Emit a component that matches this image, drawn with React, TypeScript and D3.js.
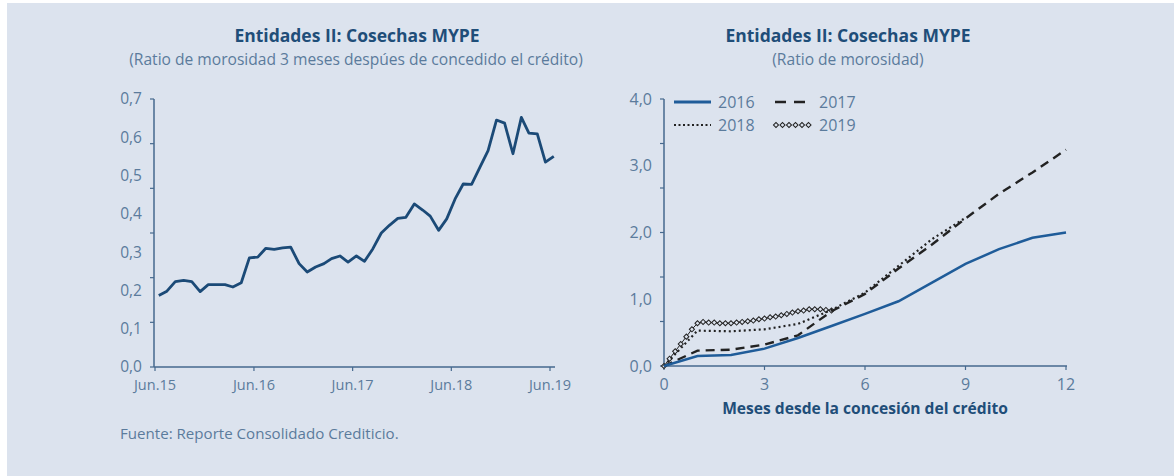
import React from "react";
import * as d3 from "d3";

// Panel izquierdo: ratio de morosidad 3 meses después (jun.15 - jun.19, mensual)
const leftValues = [
  0.187, 0.198, 0.223, 0.226, 0.223, 0.197, 0.215, 0.215, 0.215, 0.209, 0.22, 0.285,
  0.287, 0.31, 0.307, 0.311, 0.313, 0.27, 0.248, 0.261, 0.27, 0.283, 0.29, 0.274,
  0.29, 0.276, 0.309, 0.35, 0.37, 0.388, 0.391, 0.426, 0.41, 0.394, 0.357, 0.387,
  0.439, 0.478, 0.477, 0.522, 0.565, 0.645, 0.637, 0.557, 0.652, 0.611, 0.609, 0.535,
  0.55,
];
const leftTickLabels = ["Jun.15", "Jun.16", "Jun.17", "Jun.18", "Jun.19"];
const leftYLabels = [0, 0.1, 0.2, 0.3, 0.4, 0.5, 0.6, 0.7];

// Panel derecho: cosechas por meses desde la concesión
const months = [0, 1, 2, 3, 4, 5, 6, 7, 8, 9, 10, 11, 12];
const s2016 = [0, 0.15, 0.165, 0.26, 0.42, 0.6, 0.78, 0.97, 1.25, 1.53, 1.75, 1.92, 2.0];
const s2017 = [0, 0.23, 0.245, 0.32, 0.46, 0.82, 1.08, 1.46, 1.82, 2.21, 2.58, 2.9, 3.24];
const s2018 = [0, 0.53, 0.52, 0.55, 0.63, 0.84, 1.1, 1.5, 1.9, 2.22];
const s2019 = [
  0, 0.11, 0.22, 0.33, 0.44, 0.55, 0.64, 0.66, 0.65, 0.65, 0.64, 0.64, 0.64, 0.65, 0.66,
  0.67, 0.68, 0.7, 0.71, 0.73, 0.74, 0.76, 0.78, 0.8, 0.82, 0.83, 0.85, 0.85, 0.85, 0.84,
  0.83,
];
const rightXTicks = [0, 3, 6, 9, 12];
const rightYLabels = [0, 1, 2, 3, 4];

const W = 1175;
const H = 476;
const BG = "#dce3ee";
const TITLE = "#1f4e79";
const LABEL = "#5b7b9c";
const AXIS = "#46698e";
const FONT = "'Open Sans', 'Noto Sans', sans-serif";

const fmt = (v: number) => v.toFixed(1).replace(".", ",");

export default function App() {
  // ---- izquierdo
  const start = new Date(2015, 5, 1);
  const end = new Date(2019, 5, 1);
  const xL = d3.scaleTime().domain([start, end]).range([155, 550]);
  const yL = d3.scaleLinear().domain([0, 0.7]).range([367, 99]);
  const leftDates = leftValues.map((_, i) => new Date(2015, 5 + i, 15));
  const leftTicks = leftTickLabels.map((_, i) => new Date(2015 + i, 5, 1));
  const lineL = d3
    .line<number>()
    .x((_, i) => xL(leftDates[i]))
    .y((d) => yL(d));
  // las marcas del eje no coinciden con las etiquetas (6 divisiones)
  const leftYTicks = d3.range(7).map((i) => (0.7 * i) / 6);

  // ---- derecho
  const xR = d3.scaleLinear().domain([0, 12]).range([664, 1066]);
  const yR = d3.scaleLinear().domain([0, 4]).range([366, 99]);
  const rightYTicks = d3.range(7).map((i) => (4 * i) / 6);
  const lineMonthly = d3
    .line<number>()
    .x((_, i) => xR(months[i]))
    .y((d) => yR(d));
  const line2019 = d3
    .line<number>()
    .x((_, i) => xR(i / 6))
    .y((d) => yR(d));
  const diamond = d3.symbol(d3.symbolSquare, 13)();

  return (
    <svg
      width={W}
      height={H}
      style={{ position: "absolute", left: 0, top: 0, fontFamily: FONT }}
    >
      <rect x={0} y={0} width={W} height={H} fill="#ffffff" />
      <rect x={7} y={3} width={W - 8} height={H - 3} fill={BG} />

      {/* títulos */}
      <text x={357} y={42} textAnchor="middle" fontSize={17.5} fontWeight="bold" fill={TITLE}>
        Entidades II: Cosechas MYPE
      </text>
      <text x={356} y={65} textAnchor="middle" fontSize={15.6} fill={LABEL}>
        (Ratio de morosidad 3 meses despúes de concedido el crédito)
      </text>
      <text x={848} y={42} textAnchor="middle" fontSize={17.5} fontWeight="bold" fill={TITLE}>
        Entidades II: Cosechas MYPE
      </text>
      <text x={848} y={65} textAnchor="middle" fontSize={15.6} fill={LABEL}>
        (Ratio de morosidad)
      </text>

      {/* ---------- gráfico izquierdo ---------- */}
      <g>
        <line x1={154} x2={154} y1={yL(0.7)} y2={yL(0)} stroke={AXIS} strokeWidth={1.5} />
        <line x1={154} x2={555} y1={yL(0)} y2={yL(0)} stroke={AXIS} strokeWidth={1.5} />
        {leftYTicks.map((t, i) => (
          <line key={i} x1={150} x2={154} y1={yL(t)} y2={yL(t)} stroke={AXIS} strokeWidth={1.2} />
        ))}
        {leftYLabels.map((v) => (
          <text key={v} x={142} y={yL(v)} dy="0.35em" textAnchor="end" fontSize={15.5} fill={LABEL}>
            {fmt(v)}
          </text>
        ))}
        {leftTicks.map((d, i) => (
          <g key={i}>
            <line x1={xL(d)} x2={xL(d)} y1={yL(0)} y2={yL(0) + 4} stroke={AXIS} strokeWidth={1.2} />
            <text x={xL(d)} y={yL(0) + 23} textAnchor="middle" fontSize={14.5} fill={LABEL}>
              {leftTickLabels[i]}
            </text>
          </g>
        ))}
        <path
          d={lineL(leftValues) || ""}
          fill="none"
          stroke="#1b4a77"
          strokeWidth={2.8}
          strokeLinejoin="round"
        />
      </g>

      {/* ---------- gráfico derecho ---------- */}
      <g>
        <line x1={664} x2={664} y1={yR(4)} y2={yR(0)} stroke={AXIS} strokeWidth={1.5} />
        <line x1={664} x2={1067} y1={yR(0)} y2={yR(0)} stroke={AXIS} strokeWidth={1.5} />
        {rightYTicks.map((t, i) => (
          <line key={i} x1={660} x2={664} y1={yR(t)} y2={yR(t)} stroke={AXIS} strokeWidth={1.2} />
        ))}
        {rightYLabels.map((v) => (
          <text key={v} x={652} y={yR(v)} dy="0.35em" textAnchor="end" fontSize={16} fill={LABEL}>
            {fmt(v)}
          </text>
        ))}
        {rightXTicks.map((t) => (
          <g key={t}>
            <line x1={xR(t)} x2={xR(t)} y1={yR(0)} y2={yR(0) + 4} stroke={AXIS} strokeWidth={1.2} />
            <text x={xR(t)} y={yR(0) + 24} textAnchor="middle" fontSize={16} fill={LABEL}>
              {t}
            </text>
          </g>
        ))}
        <text x={865} y={414} textAnchor="middle" fontSize={15.6} fontWeight="bold" fill={TITLE}>
          Meses desde la concesión del crédito
        </text>

        {/* 2019: marcadores en rombo */}
        <path d={line2019(s2019) || ""} fill="none" stroke="#222" strokeWidth={1} />
        {s2019.map((v, i) => (
          <path
            key={i}
            d={diamond || ""}
            transform={`translate(${xR(i / 6)},${yR(v)}) rotate(45)`}
            fill={BG}
            stroke="#222"
            strokeWidth={1}
          />
        ))}
        <path
          d={lineMonthly(s2018) || ""}
          fill="none"
          stroke="#222"
          strokeWidth={2.2}
          strokeDasharray="2,3"
        />
        <path
          d={lineMonthly(s2017) || ""}
          fill="none"
          stroke="#222"
          strokeWidth={2.4}
          strokeDasharray="9,6"
        />
        <path d={lineMonthly(s2016) || ""} fill="none" stroke="#1f5c99" strokeWidth={2.5} />

        {/* leyenda */}
        <g fontSize={16} fill={LABEL}>
          <line x1={674} x2={711} y1={102} y2={102} stroke="#1f5c99" strokeWidth={2.8} />
          <text x={718} y={102} dy="0.35em">2016</text>
          <line x1={775} x2={812} y1={102} y2={102} stroke="#222" strokeWidth={2.6} strokeDasharray="11,8" />
          <text x={819} y={102} dy="0.35em">2017</text>
          <line x1={674} x2={711} y1={125} y2={125} stroke="#222" strokeWidth={2} strokeDasharray="2,2.5" />
          <text x={718} y={125} dy="0.35em">2018</text>
          {d3.range(6).map((i) => (
            <path
              key={i}
              d={diamond || ""}
              transform={`translate(${776 + i * 6.5},125) rotate(45)`}
              fill={BG}
              stroke="#222"
              strokeWidth={1}
            />
          ))}
          <text x={819} y={125} dy="0.35em">2019</text>
        </g>
      </g>

      <text x={120} y={439} fontSize={15.1} fill={LABEL}>
        Fuente: Reporte Consolidado Crediticio.
      </text>
    </svg>
  );
}
